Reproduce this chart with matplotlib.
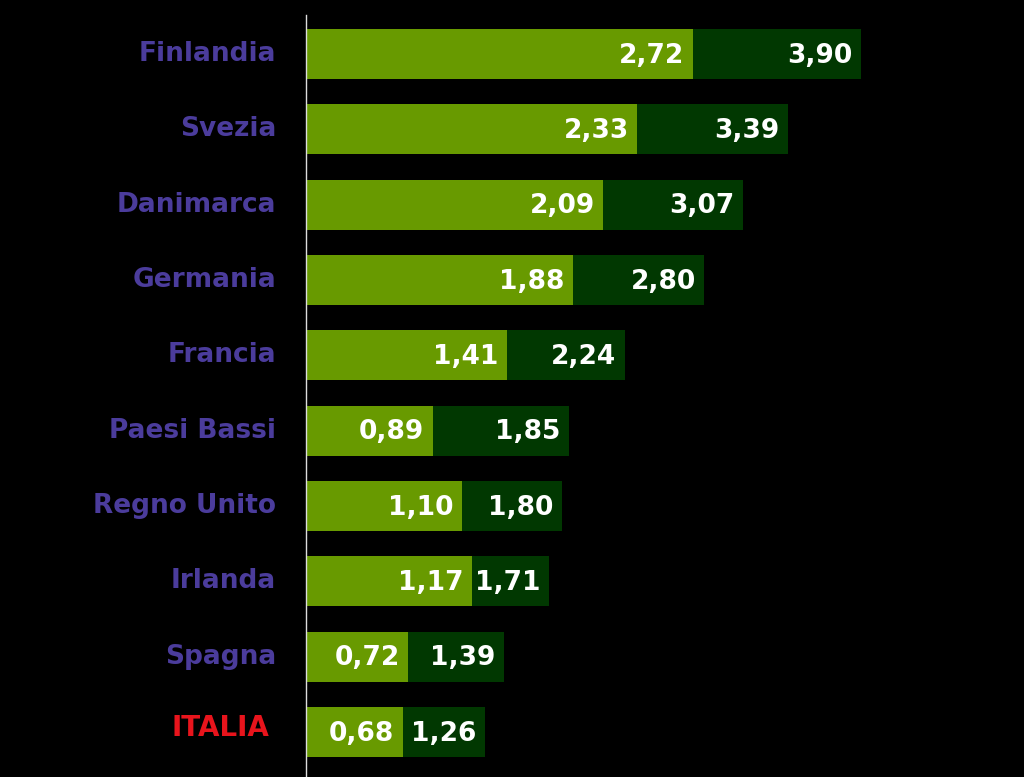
import matplotlib.pyplot as plt

countries = ["Finlandia", "Svezia", "Danimarca", "Germania", "Francia",
             "Paesi Bassi", "Regno Unito", "Irlanda", "Spagna", "ITALIA"]
first_vals = [2.72, 2.33, 2.09, 1.88, 1.41, 0.89, 1.10, 1.17, 0.72, 0.68]
total_vals = [3.90, 3.39, 3.07, 2.80, 2.24, 1.85, 1.80, 1.71, 1.39, 1.26]

LIGHT = "#689a00"
DARK = "#013801"
LABEL = "#4b3c9c"


def fmt(v):
    return f"{v:.2f}".replace(".", ",")


W, H = 1024, 777
fig = plt.figure(figsize=(W / 100, H / 100), dpi=100, facecolor="black")
ax = fig.add_axes([306 / W, 0, 640 / W, 762 / H], facecolor="black")

y = list(range(len(countries)))
ax.barh(y, total_vals, height=0.664, color=DARK, zorder=1)
ax.barh(y, first_vals, height=0.664, color=LIGHT, zorder=2)

pad = 0.06
for i, (a, b) in enumerate(zip(first_vals, total_vals)):
    ax.text(a - pad, i + 0.02, fmt(a), ha="right", va="center", color="white",
            fontsize=19, fontweight="bold", zorder=3)
    ax.text(b - pad, i + 0.02, fmt(b), ha="right", va="center", color="white",
            fontsize=19, fontweight="bold", zorder=3)

for i, name in enumerate(countries):
    if name == "ITALIA":
        ax.text(-0.26, i - 0.05, name, ha="right", va="center", color="#e8141c",
                fontsize=20, fontweight="bold")
    else:
        ax.text(-0.21, i, name, ha="right", va="center", color=LABEL,
                fontsize=19, fontweight="bold")

ax.set_xlim(0, 4.5)
ax.set_ylim(len(countries) - 1 + 0.597, -0.518)
ax.set_xticks([])
ax.set_yticks([])
for s in ("top", "right", "bottom"):
    ax.spines[s].set_visible(False)
ax.spines["left"].set_color("#dddddd")
ax.spines["left"].set_linewidth(1)

fig.savefig("out.png", dpi=100, facecolor="black")
